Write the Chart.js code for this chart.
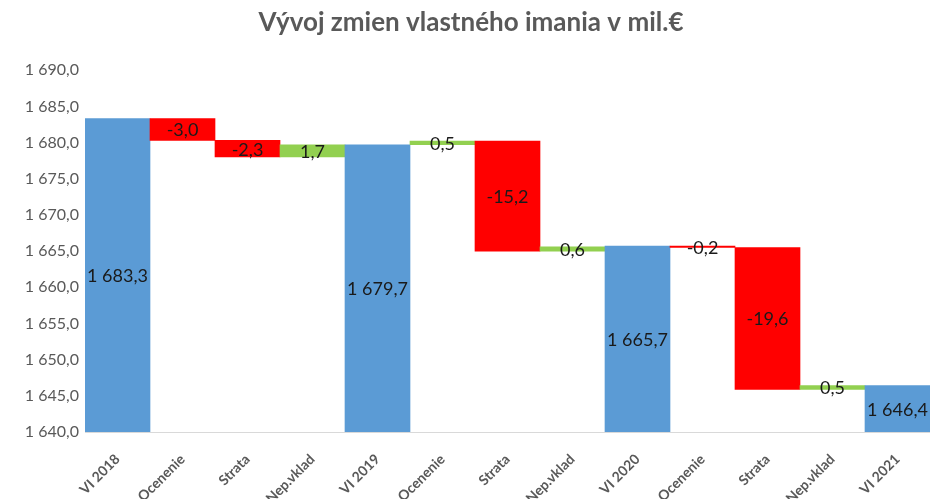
<!DOCTYPE html>
<html>
<head>
<meta charset="utf-8">
<script src="https://cdn.jsdelivr.net/npm/chart.js@4/dist/chart.umd.min.js"></script>
<style>
  html, body { margin: 0; padding: 0; background: #fff; }
  #wrap { width: 930px; height: 499px; }
</style>
</head>
<body>
<div id="wrap"><canvas id="c"></canvas></div>
<script>
const categories = ['VI 2018', 'Ocenenie', 'Strata', 'Nep.vklad', 'VI 2019', 'Ocenenie', 'Strata', 'Nep.vklad', 'VI 2020', 'Ocenenie', 'Strata', 'Nep.vklad', 'VI 2021'];
const values = [1683.3, -3.0, -2.3, 1.7, 1679.7, 0.5, -15.2, 0.6, 1665.7, -0.2, -19.6, 0.5, 1646.4];
const isTotal = [true, false, false, false, true, false, false, false, true, false, false, false, true];
const yTicks = { min: 1640, max: 1690, step: 5 };

// waterfall: totals stand on the axis, changes float from the running total
let running = 0;
const bars = values.map((v, i) => {
    if (isTotal[i]) { running = v; return [yTicks.min, v]; }
    const from = running;
    running = running + v;
    return [from, running];
});
const colors = values.map((v, i) => isTotal[i] ? '#5b9bd5' : (v < 0 ? '#ff0000' : '#92d050'));

function fmt(n) {
    const neg = n < 0;
    const parts = Math.abs(n).toFixed(1).split('.');
    const int = parts[0].replace(/\B(?=(\d{3})+(?!\d))/g, ' ');
    return (neg ? '-' : '') + int + ',' + parts[1];
}

const valueLabels = {
    id: 'valueLabels',
    afterDatasetsDraw(chart) {
        const ctx = chart.ctx;
        const meta = chart.getDatasetMeta(0);
        ctx.save();
        ctx.font = '18px Lato, "Open Sans", sans-serif';
        ctx.fillStyle = '#1a1a1a';
        ctx.textAlign = 'center';
        ctx.textBaseline = 'middle';
        meta.data.forEach((el, i) => {
            const y = chart.scales.y.getPixelForValue((bars[i][0] + bars[i][1]) / 2);
            ctx.fillText(fmt(values[i]), el.x, y + 1);
        });
        ctx.restore();
    }
};

new Chart(document.getElementById('c'), {
    type: 'bar',
    data: {
        labels: categories,
        datasets: [{
            data: bars,
            backgroundColor: colors,
            borderWidth: 0,
            categoryPercentage: 1.0,
            barPercentage: 1.0
        }]
    },
    options: {
        responsive: true,
        maintainAspectRatio: false,
        animation: false,
        layout: { padding: { left: 12, right: 0, top: 0, bottom: 0 } },
        plugins: {
            legend: { display: false },
            tooltip: { enabled: false },
            title: {
                display: true,
                text: 'Vývoj zmien vlastného imania v mil.€',
                color: '#595959',
                font: { family: 'Lato, "Open Sans", sans-serif', size: 26, weight: 'bold' },
                padding: { top: 7, bottom: 32 }
            }
        },
        scales: {
            x: {
                grid: { display: false, drawTicks: false },
                border: { display: true, color: '#d9d9d9', width: 1 },
                ticks: {
                    color: '#595959',
                    font: { family: 'Lato, "Open Sans", sans-serif', size: 14, weight: 'bold' },
                    minRotation: 45,
                    maxRotation: 45,
                    padding: 19
                },
                afterFit(scale) { scale.height = 67; }
            },
            y: {
                min: yTicks.min,
                max: yTicks.max,
                grid: { display: false, drawTicks: false },
                border: { display: false },
                ticks: {
                    stepSize: yTicks.step,
                    color: '#595959',
                    font: { family: 'Lato, "Open Sans", sans-serif', size: 16 },
                    padding: 6,
                    callback: v => fmt(v)
                },
                afterFit(scale) { scale.width = 73; }
            }
        }
    },
    plugins: [valueLabels]
});
</script>
</body>
</html>
